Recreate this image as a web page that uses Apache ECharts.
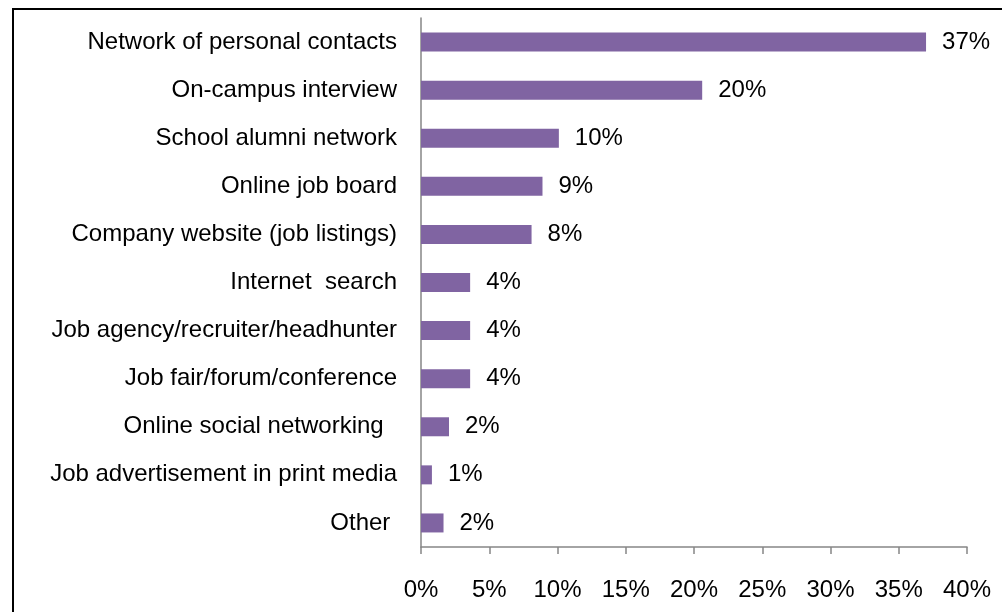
<!DOCTYPE html>
<html><head><meta charset="utf-8">
<script src="https://cdn.jsdelivr.net/npm/echarts@6/dist/echarts.min.js"></script>
<style>
html,body{margin:0;padding:0;background:#fff;}
#c{width:1002px;height:612px;position:relative;}
#frame{position:absolute;left:12px;top:8px;width:1000px;height:700px;border-left:2px solid #000;border-top:2px solid #000;pointer-events:none;}
</style></head>
<body>
<div id="c"></div>
<div id="frame"></div>
<script>
var categories = ["Network of personal contacts","On-campus interview","School alumni network","Online job board","Company website (job listings)","Internet  search","Job agency/recruiter/headhunter","Job fair/forum/conference","Online social networking  ","Job advertisement in print media","Other "];
var values = [37.0, 20.6, 10.1, 8.9, 8.1, 3.6, 3.6, 3.6, 2.05, 0.8, 1.65];
var valueLabels = ["37%","20%","10%","9%","8%","4%","4%","4%","2%","1%","2%"];
var xTicks = [0,5,10,15,20,25,30,35,40];

var chart = echarts.init(document.getElementById('c'));
var font = '"Liberation Sans", Arial, sans-serif';
chart.setOption({
  animation:false,
  grid:{left:421,right:35,top:18,bottom:65,containLabel:false},
  xAxis:{type:'value',min:xTicks[0],max:xTicks[xTicks.length-1],interval:5,
    axisLine:{show:true,lineStyle:{color:'#868686',width:1.5}},
    axisTick:{show:true,length:7,lineStyle:{color:'#868686',width:1.5}},
    splitLine:{show:false},
    axisLabel:{formatter:function(v){return v+'%';},color:'#000',fontSize:24,fontFamily:font,margin:31}},
  yAxis:{type:'category',data:categories,inverse:true,
    axisLine:{show:true,lineStyle:{color:'#868686',width:1.5}},
    axisTick:{show:false},
    axisLabel:{color:'#000',fontSize:24,fontFamily:font,margin:24}},
  series:[{type:'bar',data:values,barWidth:19,
    itemStyle:{color:'#8064A2'},
    label:{show:true,position:'right',distance:16,color:'#000',fontSize:24,fontFamily:font,
      formatter:function(p){return valueLabels[p.dataIndex];}}}]
});
</script>
</body></html>
